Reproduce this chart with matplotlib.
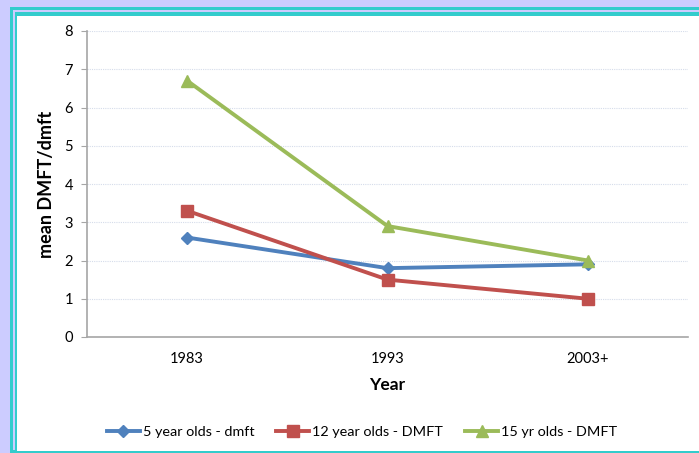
import matplotlib
matplotlib.use("Agg")
import matplotlib.pyplot as plt
from matplotlib.patches import Rectangle

years = ["1983", "1993", "2003+"]
five_year = [2.6, 1.8, 1.9]
twelve_year = [3.3, 1.5, 1.0]
fifteen_year = [6.7, 2.9, 2.0]
series_labels = ["5 year olds - dmft", "12 year olds - DMFT", "15 yr olds - DMFT"]
y_ticks = [0, 1, 2, 3, 4, 5, 6, 7, 8]

plt.rcParams['font.family'] = ['Lato', 'DejaVu Sans']

W, H = 699, 453
fig = plt.figure(figsize=(W / 100, H / 100), dpi=100)
fig.patch.set_facecolor('#CCCCFF')

def prect(x0, y0, x1, y1, color):
    fig.patches.append(Rectangle((x0 / W, 1 - y1 / H), (x1 - x0) / W, (y1 - y0) / H,
                                 transform=fig.transFigure, facecolor=color,
                                 edgecolor='none', zorder=-10))

prect(10, 7, W + 5, H + 5, '#33CCCC')
prect(13, 10, W + 5, 450, '#CCCCFF')
prect(15, 12, W + 5, H + 5, '#33CCCC')
prect(17, 16, W + 5, 451, '#FFFFFF')

ax = fig.add_axes([87 / W, 1 - 337 / H, (688 - 87) / W, (337 - 31) / H])
ax.set_facecolor('none')

x = list(range(len(years)))
ax.plot(x, five_year, color='#4F81BD', lw=2.8, marker='D', ms=6.5, label=series_labels[0])
ax.plot(x, twelve_year, color='#C0504D', lw=2.8, marker='s', ms=8, label=series_labels[1])
ax.plot(x, fifteen_year, color='#9BBB59', lw=2.8, marker='^', ms=8, label=series_labels[2])

ax.set_xlim(-0.5, 2.5)
ax.set_ylim(0, 8)
ax.set_yticks(y_ticks)
ax.set_xticks(x)
ax.set_xticklabels(years)
ax.yaxis.grid(True, color='#D5DCEA', linestyle=(0, (1, 1)), linewidth=0.8)
ax.set_axisbelow(True)
for s in ['top', 'right']:
    ax.spines[s].set_visible(False)
for s in ['left', 'bottom']:
    ax.spines[s].set_color('#A6A6A6')
    ax.spines[s].set_linewidth(1.2)
ax.tick_params(axis='y', length=4, color='#A6A6A6', labelsize=10.5, pad=6)
ax.tick_params(axis='x', length=0, labelsize=10.5, pad=11)

ax.set_ylabel('mean DMFT/dmft', fontsize=13, fontweight='bold', labelpad=7)
ax.set_xlabel('Year', fontsize=12.5, fontweight='bold', labelpad=8)

fig.legend(loc='center', bbox_to_anchor=(362 / W, 1 - 432 / H), ncol=3, frameon=False,
           fontsize=10.4, handlelength=2.3, handletextpad=0.2, columnspacing=1.5)

fig.savefig('out.png', dpi=100, facecolor=fig.get_facecolor())
